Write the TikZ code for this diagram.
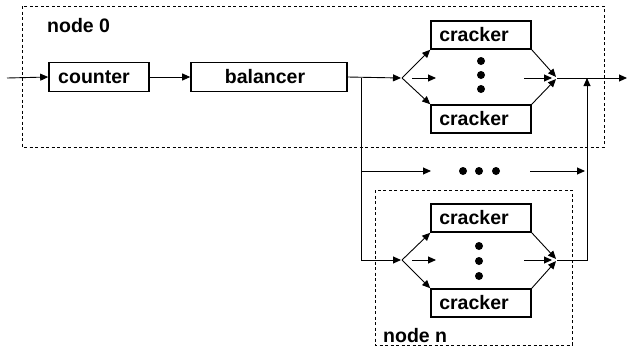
\documentclass[tikz,border=0pt]{standalone}
\usepackage{fontspec}
\setmainfont{Liberation Sans}
\usetikzlibrary{arrows.meta}
\tikzset{
  box/.style={draw, line width=1.6pt, minimum height=29pt, inner sep=0pt, font=\fontsize{19.5}{22}\selectfont\bfseries},
  conn/.style={line width=0.9pt, -{Triangle[length=8pt,width=7pt]}},
  plain/.style={line width=0.9pt},
  dashbox/.style={draw, line width=0.7pt, dash pattern=on 3pt off 2.5pt},
  dot/.style={circle, fill, inner sep=0pt, minimum size=8pt},
  lbl/.style={anchor=west, inner sep=0pt, font=\fontsize{19.5}{22}\selectfont\bfseries}
}
\begin{document}
\begin{tikzpicture}[x=1pt,y=-1pt]
\useasboundingbox (0,0) rectangle (628,349);
% dashed node boxes
\draw[dashbox] (22,6) rectangle (604,147);
\draw[dashbox] (375,190) rectangle (572,345);
\node[lbl] (l0) at (47,26) {node 0};
\node[lbl] (ln) at (383,336) {node n};
% main boxes
\node[box, minimum width=100pt] (counter) at (99,77) {counter\kern10pt};
\node[box, minimum width=156pt] (balancer) at (269,77) {balancer\kern8pt};
% crackers node 0
\node[box, minimum width=100pt, minimum height=28pt] (c0t) at (481,35) {cracker\kern14pt};
\node[box, minimum width=100pt, minimum height=28pt] (c0b) at (481,119) {cracker\kern14pt};
% crackers node n
\node[box, minimum width=100pt, minimum height=28pt] (cnt) at (481,218) {cracker\kern14pt};
\node[box, minimum width=100pt, minimum height=28pt] (cnb) at (481,303) {cracker\kern14pt};
% dots
\node[dot] (d01) at (481,61) {};
\node[dot] (d02) at (481,75) {};
\node[dot] (d03) at (481,89) {};
\node[dot] (dn1) at (479,246) {};
\node[dot] (dn2) at (479,261) {};
\node[dot] (dn3) at (479,276) {};
\node[dot] (dh1) at (463,171) {};
\node[dot] (dh2) at (479,171) {};
\node[dot] (dh3) at (496,171) {};
% coordinates
\coordinate (in) at (7,78);
\coordinate (j0) at (361,78);
\coordinate (s0) at (402,78);
\coordinate (m0) at (557,78);
\coordinate (out) at (627,78);
\coordinate (v0) at (587,78);
\coordinate (jm) at (361,171);
\coordinate (jn) at (361,260);
\coordinate (sn) at (402,260);
\coordinate (mn) at (557,260);
\coordinate (vn) at (587,260);
\coordinate (vm) at (587,171);
\coordinate (a0s) at (412,78);
\coordinate (a0e) at (436,78);
\coordinate (b0s) at (524,78);
\coordinate (b0e) at (552,78);
\coordinate (ans) at (412,260);
\coordinate (ane) at (436,260);
\coordinate (bns) at (524,260);
\coordinate (bne) at (552,260);
\coordinate (hs) at (431,171);
\coordinate (he) at (530,171);
% connectors
\draw[conn] (in) -- (counter.west);
\draw[conn] (counter.east) -- (balancer.west);
\draw[conn] (balancer.east) -- ([xshift=-1pt]s0);
\draw[conn] (s0) -- (c0t.south west);
\draw[conn] (s0) -- (c0b.north west);
\draw[conn] (a0s) -- (a0e);
\draw[conn, shorten >=1.5pt] (c0t.south east) -- (m0);
\draw[conn, shorten >=1.5pt] (c0b.north east) -- (m0);
\draw[conn] (b0s) -- (b0e);
\draw[conn] (m0) -- (out);
% branch down
\draw[plain] (j0) -- (jn);
\draw[conn] (jn) -- ([xshift=-1pt]sn);
\draw[conn] (jm) -- (hs);
\draw[conn] (he) -- ([xshift=-2pt]vm);
\draw[conn] (sn) -- (cnt.south west);
\draw[conn] (sn) -- (cnb.north west);
\draw[conn] (ans) -- (ane);
\draw[conn, shorten >=1.5pt] (cnt.south east) -- (mn);
\draw[conn, shorten >=1.5pt] (cnb.north east) -- (mn);
\draw[conn] (bns) -- (bne);
\draw[conn] (mn) -- (vn) -- (v0);
\end{tikzpicture}
\end{document}
